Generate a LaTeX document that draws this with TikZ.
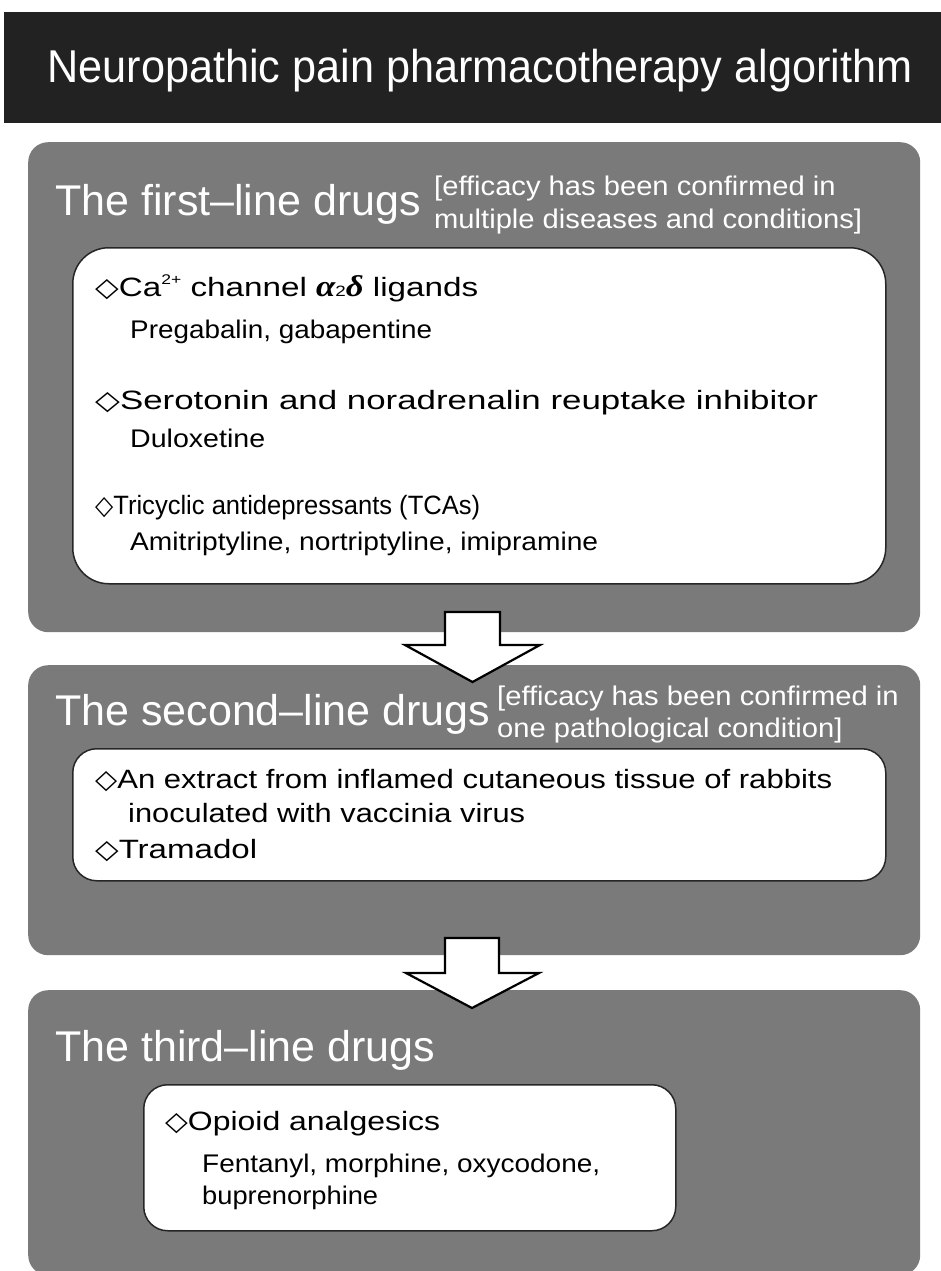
\documentclass[tikz,border=0pt]{standalone}
\usepackage{fontspec}
\usepackage{graphicx}
\setmainfont{Liberation Sans}
\newfontfamily\bodyfont[FakeStretch=1.08]{Liberation Sans}
\newfontfamily\symfont{DejaVu Sans}
\newfontfamily\greekfont{Liberation Serif}
\newcommand\dia{{\symfont ◇}}
\newcommand\fitto[2]{\resizebox{#1}{\height}{#2}}
\definecolor{panelgray}{RGB}{122,122,122}
\definecolor{headerblack}{RGB}{34,34,34}
\begin{document}
\begin{tikzpicture}[x=1pt,y=-1pt,
  panel/.style={fill=panelgray, draw=none, rounded corners=20pt, inner sep=0pt, anchor=north west},
  inbox/.style={fill=white, draw=black!85, line width=1.5pt, inner sep=0pt, anchor=north west},
  blockarrow/.style={fill=white, draw=black, line width=2.2pt, line join=miter},
  ttl/.style={anchor=base west, inner sep=0pt, text=white, font=\fontsize{43}{50}\selectfont},
  note/.style={anchor=base west, inner sep=0pt, text=white, font=\bodyfont\fontsize{27}{30}\selectfont},
  head/.style={anchor=base west, inner sep=0pt, font=\bodyfont\fontsize{26.5}{30}\selectfont},
  drug/.style={anchor=base west, inner sep=0pt, font=\bodyfont\fontsize{25.5}{30}\selectfont}]
\useasboundingbox (0,0) rectangle (941,1271);
\fill[white] (0,0) rectangle (941,1271);
% header
\node[fill=headerblack, inner sep=0pt, minimum width=937pt, minimum height=111pt, anchor=north west] (header) at (4,12) {};
\node[anchor=base, inner sep=0pt, text=white, font=\fontsize{46}{50}\selectfont] (title) at (480,83) {\fitto{865pt}{Neuropathic pain pharmacotherapy algorithm}};
% panels
\node[panel, minimum width=892pt, minimum height=490pt] (p1) at (28,142) {};
\node[panel, minimum width=892pt, minimum height=290pt] (p2) at (28,665) {};
\node[panel, minimum width=892pt, minimum height=285pt] (p3) at (28,990) {};
% inner boxes
\node[inbox, rounded corners=36pt, minimum width=813pt, minimum height=336pt] (b1) at (72,247) {};
\node[inbox, rounded corners=24pt, minimum width=813pt, minimum height=132pt] (b2) at (72,748) {};
\node[inbox, rounded corners=24pt, minimum width=532pt, minimum height=146pt] (b3) at (143,1084) {};
% arrows
\draw[blockarrow] (445,612) -- (500,612) -- (500,645) -- (540,645) -- (472.5,682) -- (405,645) -- (445,645) -- cycle;
\draw[blockarrow] (445,938) -- (499,938) -- (499,973) -- (539,973) -- (472,1008) -- (406,973) -- (445,973) -- cycle;
% panel 1
\node[ttl] (t1) at (55,215) {The first–line drugs};
\node[note] (n1a) at (434,195) {[efficacy has been confirmed in};
\node[note] (n1b) at (434,228) {multiple diseases and conditions]};
\node[head] (h1) at (95,296) {\fitto{383pt}{\dia Ca\raisebox{0.45em}{\fontsize{14}{14}\selectfont 2+} channel {\greekfont\bfseries\itshape\fontsize{30}{30}\selectfont α}\raisebox{-0.02em}{\fontsize{15}{15}\selectfont 2}{\greekfont\bfseries\itshape\fontsize{30}{30}\selectfont δ} ligands}};
\node[drug] (d1) at (130,338) {\fitto{302pt}{Pregabalin, gabapentine}};
\node[head] (h2) at (95,409) {\fitto{723pt}{\dia Serotonin and noradrenalin reuptake inhibitor}};
\node[drug] (d2) at (130,447) {\fitto{135pt}{Duloxetine}};
\node[head] (h3) at (95,514) {\fitto{385pt}{\dia Tricyclic antidepressants (TCAs)}};
\node[drug] (d3) at (130,550) {\fitto{468pt}{Amitriptyline, nortriptyline, imipramine}};
% panel 2
\node[ttl] (t2) at (55,725) {The second–line drugs};
\node[note] (n2a) at (497,705) {[efficacy has been confirmed in};
\node[note] (n2b) at (497,737) {one pathological condition]};
\node[head] (h4) at (95,788) {\fitto{737pt}{\dia An extract from inflamed cutaneous tissue of rabbits}};
\node[head] (h4b) at (128,822) {\fitto{397pt}{inoculated with vaccinia virus}};
\node[head] (h5) at (95,858) {\fitto{162pt}{\dia Tramadol}};
% panel 3
\node[ttl] (t3) at (55,1061) {The third–line drugs};
\node[head] (h6) at (165,1130) {\fitto{275pt}{\dia Opioid analgesics}};
\node[drug] (d6a) at (202,1172) {\fitto{398pt}{Fentanyl, morphine, oxycodone,}};
\node[drug] (d6b) at (202,1204) {\fitto{176pt}{buprenorphine}};
\end{tikzpicture}
\end{document}
